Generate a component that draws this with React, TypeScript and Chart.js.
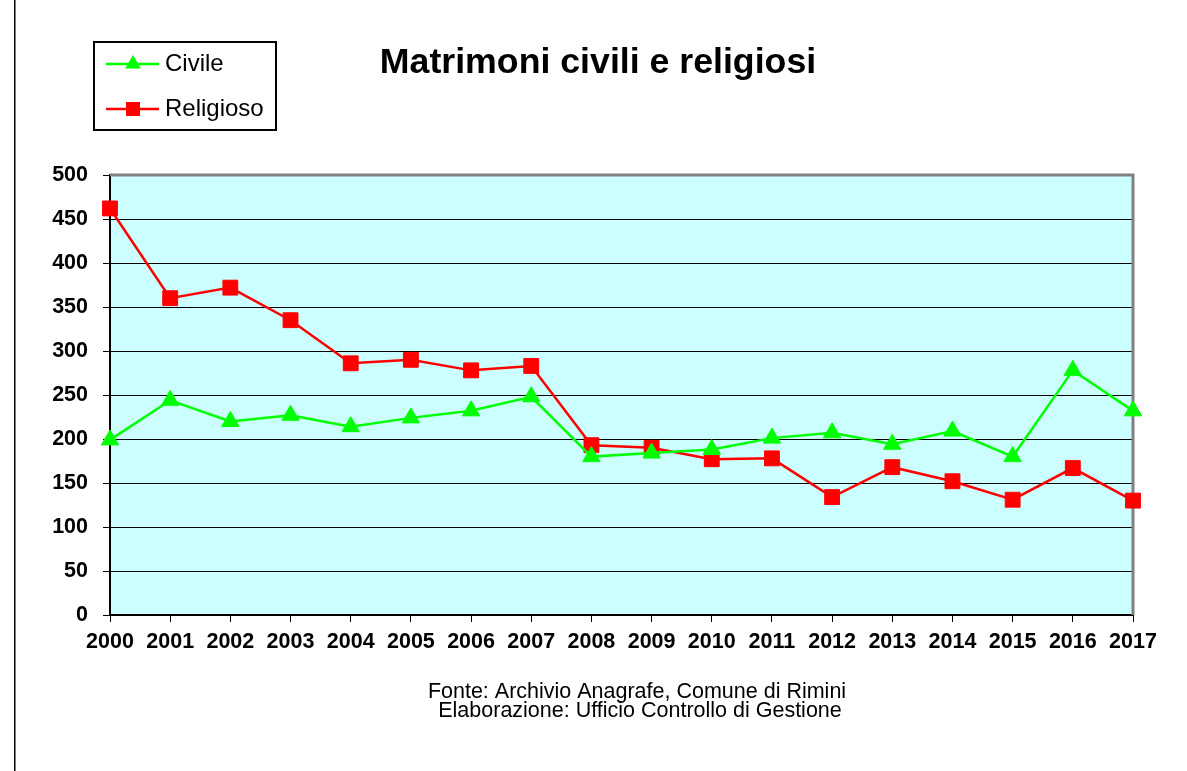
import React, { useEffect, useRef } from "react";
import { Chart, registerables } from "chart.js";

Chart.register(...registerables);

const years = ["2000","2001","2002","2003","2004","2005","2006","2007","2008","2009","2010","2011","2012","2013","2014","2015","2016","2017"];
const civile = [199, 244, 220, 227, 214, 224, 232, 248, 180, 184, 188, 201, 207, 194, 209, 180, 278, 232];
const religioso = [462, 360, 372, 335, 286, 290, 278, 283, 193, 190, 177, 178, 134, 168, 152, 131, 167, 130];
const titleText = "Matrimoni civili e religiosi";
const footerLines = ["Fonte: Archivio Anagrafe, Comune di Rimini", "Elaborazione: Ufficio Controllo di Gestione"];
const legendLabels = ["Civile", "Religioso"];

const FONT = "'Liberation Sans', Arial, sans-serif";
const GREEN = "#00FF00";
const RED = "#FF0000";

const decorPlugin = {
  id: "decor",
  beforeDraw(chart: any) {
    const { ctx, chartArea } = chart;
    ctx.save();
    ctx.fillStyle = "#FFFFFF";
    ctx.fillRect(0, 0, chart.width, chart.height);
    ctx.fillStyle = "#CCFFFF";
    ctx.fillRect(chartArea.left, chartArea.top, chartArea.right - chartArea.left, chartArea.bottom - chartArea.top);
    ctx.restore();
  },
  beforeDatasetsDraw(chart: any) {
    const { ctx, chartArea } = chart;
    ctx.save();
    ctx.strokeStyle = "#808080";
    ctx.lineWidth = 3;
    ctx.beginPath();
    ctx.moveTo(chartArea.left, chartArea.top);
    ctx.lineTo(chartArea.right, chartArea.top);
    ctx.lineTo(chartArea.right, chartArea.bottom);
    ctx.stroke();
    ctx.restore();
  },
  afterDraw(chart: any) {
    const { ctx } = chart;
    ctx.save();
    // left vertical line
    ctx.fillStyle = "#000";
    ctx.fillRect(14, 0, 1.5, chart.height);
    // title
    ctx.fillStyle = "#000";
    ctx.font = `bold 35.7px ${FONT}`;
    ctx.textAlign = "center";
    ctx.textBaseline = "alphabetic";
    ctx.fillText(titleText, 598, 73);
    // footer
    ctx.font = `21.5px ${FONT}`;
    ctx.fillText(footerLines[0], 637, 698);
    ctx.fillText(footerLines[1], 640, 717);
    // legend
    ctx.lineWidth = 2;
    ctx.strokeStyle = "#000";
    ctx.strokeRect(94, 42, 182, 88);
    const rows = [
      { y: 64, color: GREEN, style: "triangle", label: legendLabels[0] },
      { y: 109, color: RED, style: "rect", label: legendLabels[1] },
    ];
    rows.forEach((row) => {
      ctx.strokeStyle = row.color;
      ctx.lineWidth = 2.5;
      ctx.beginPath();
      ctx.moveTo(106, row.y);
      ctx.lineTo(159, row.y);
      ctx.stroke();
      ctx.fillStyle = row.color;
      ctx.beginPath();
      if (row.style === "rect") {
        ctx.rect(133 - 7, row.y - 7, 14, 14);
      } else {
        ctx.moveTo(133, row.y - 9);
        ctx.lineTo(133 + 7.8, row.y + 4.5);
        ctx.lineTo(133 - 7.8, row.y + 4.5);
        ctx.closePath();
      }
      ctx.fill();
      ctx.fillStyle = "#000";
      ctx.font = `24px ${FONT}`;
      ctx.textAlign = "left";
      ctx.textBaseline = "middle";
      ctx.fillText(row.label, 165, row.y);
    });
    ctx.restore();
  },
};

export default function App() {
  const ref = useRef<HTMLCanvasElement>(null);
  useEffect(() => {
    if (!ref.current) return;
    const chart = new Chart(ref.current, {
      type: "line",
      data: {
        labels: years,
        datasets: [
          {
            label: legendLabels[0],
            data: civile,
            borderColor: GREEN,
            backgroundColor: GREEN,
            borderWidth: 2.5,
            pointStyle: "triangle",
            pointRadius: 10,
            pointBorderWidth: 1,
            pointBackgroundColor: GREEN,
            pointBorderColor: GREEN,
            tension: 0,
            clip: false,
          },
          {
            label: legendLabels[1],
            data: religioso,
            borderColor: RED,
            backgroundColor: RED,
            borderWidth: 2.5,
            pointStyle: "rect",
            pointRadius: 10.5,
            pointBorderWidth: 1,
            pointBackgroundColor: RED,
            pointBorderColor: RED,
            tension: 0,
            clip: false,
          },
        ],
      },
      options: {
        responsive: false,
        animation: false,
        layout: { padding: { left: 0, top: 175, right: 54, bottom: 0 } },
        plugins: {
          legend: { display: false },
          title: { display: false },
          tooltip: { enabled: false },
        },
        scales: {
          x: {
            type: "category",
            offset: false,
            grid: { drawOnChartArea: false, color: "#000", tickLength: 7, tickColor: "#000" },
            border: { color: "#000", width: 2 },
            ticks: {
              color: "#000",
              font: { family: FONT, size: 21.5, weight: "bold" },
              padding: 7,
              autoSkip: false,
              maxRotation: 0,
              minRotation: 0,
            },
            afterFit(scale: any) {
              scale.height = 156;
              scale.paddingLeft = 0;
              scale.paddingRight = 0;
            },
          },
          y: {
            min: 0,
            max: 500,
            grid: { color: "#000", lineWidth: 1, tickLength: 7, tickColor: "#000" },
            border: { color: "#000", width: 2 },
            ticks: {
              stepSize: 50,
              color: "#000",
              font: { family: FONT, size: 21.5, weight: "bold" },
              padding: 15,
            },
            afterFit(scale: any) {
              scale.width = 110;
              scale.paddingTop = 0;
              scale.paddingBottom = 0;
            },
          },
        },
      },
      plugins: [decorPlugin],
    });
    return () => chart.destroy();
  }, []);
  return (
    <canvas
      ref={ref}
      width={1187}
      height={771}
      style={{ position: "fixed", left: 0, top: 0, width: 1187, height: 771 }}
    />
  );
}
